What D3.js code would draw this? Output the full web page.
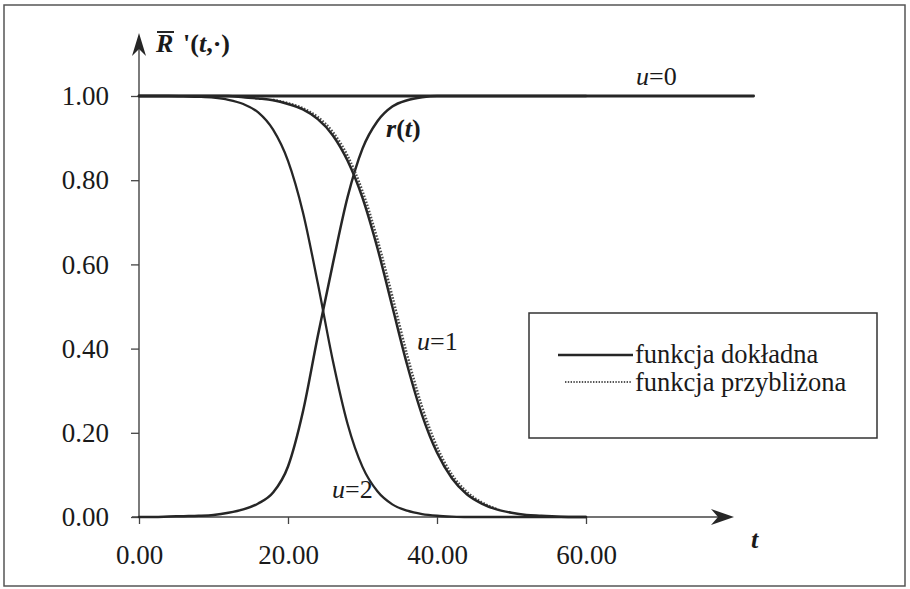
<!DOCTYPE html>
<html>
<head>
<meta charset="utf-8">
<script src="https://cdn.jsdelivr.net/npm/d3@7"></script>
<style>
  html, body { margin: 0; padding: 0; background: #fff; }
  svg { display: block; }
  text { font-family: "Liberation Serif", "Times New Roman", Times, serif; fill: #1a1a1a; }
</style>
</head>
<body>
<svg id="chart" width="910" height="589"></svg>
<script>
// Time grid (t) shared by the sampled curves
const tValues = [0, 2, 4, 6, 8, 10, 12, 14, 16, 18, 20, 22, 24, 26, 28, 30,
                 32, 34, 36, 38, 40, 42, 44, 46, 48, 50, 52, 54, 56, 58, 60];

// Exact reliability functions for u = 1 and u = 2, and the level r(t)
const exactU1 = [1.000, 1.000, 1.000, 1.000, 1.000, 1.000, 1.000, 0.997, 0.994, 0.990,
                 0.981, 0.968, 0.945, 0.907, 0.846, 0.758, 0.639, 0.500, 0.361, 0.242,
                 0.153, 0.092, 0.054, 0.032, 0.018, 0.010, 0.005, 0.003, 0.001, 0.000, 0.000];
const exactU2 = [1.000, 1.000, 1.000, 0.999, 0.998, 0.996, 0.991, 0.981, 0.961, 0.920,
                 0.846, 0.724, 0.555, 0.373, 0.221, 0.119, 0.061, 0.030, 0.015, 0.007,
                 0.003, 0.001, 0.000, 0.000, 0.000, 0.000, 0.000, 0.000, 0.000, 0.000, 0.000];
const levelR  = [0.000, 0.000, 0.001, 0.002, 0.003, 0.005, 0.010, 0.018, 0.032, 0.058,
                 0.120, 0.250, 0.430, 0.600, 0.760, 0.875, 0.940, 0.975, 0.990, 0.997,
                 1.000, 1.000, 1.000, 1.000, 1.000, 1.000, 1.000, 1.000, 1.000, 1.000, 1.000];

// Approximate function for u = 1 (dotted)
const approxT  = [18, 20, 22, 24, 26, 28, 30, 32, 34, 36, 38, 40, 42, 44, 46, 48];
const approxU1 = [0.991, 0.983, 0.971, 0.950, 0.915, 0.858, 0.774, 0.660, 0.525, 0.385,
                  0.262, 0.167, 0.101, 0.060, 0.035, 0.019];

// u = 0 stays at full reliability over the whole horizon
const flatT  = [0, 82.5];
const flatU0 = [1.0, 1.0];

// Axis ticks
const xTicks = [0, 20, 40, 60];
const yTicks = [0, 0.2, 0.4, 0.6, 0.8, 1.0];

// Legend entries
const legendLabels = ["funkcja dokładna", "funkcja przybliżona"];

const svg = d3.select("#chart");
const ink = "#262626";
const serif = '"Liberation Serif", "Times New Roman", Times, serif';

// Outer frame
svg.append("rect")
  .attr("x", 4).attr("y", 5).attr("width", 901).attr("height", 581)
  .attr("fill", "#fff").attr("stroke", "#555").attr("stroke-width", 1.5);

const x = d3.scaleLinear().domain([0, 60]).range([139, 586]);
const y = d3.scaleLinear().domain([0, 1]).range([517, 96]);

// Axes (ticks and labels)
const yAxis = d3.axisLeft(y).tickValues(yTicks).tickSize(8).tickPadding(22)
  .tickFormat(d3.format(".2f"));
const xAxis = d3.axisBottom(x).tickValues(xTicks).tickSize(7).tickPadding(21)
  .tickFormat(d3.format(".2f"));

const gy = svg.append("g").attr("transform", `translate(${x(0)},0)`).call(yAxis);
const gx = svg.append("g").attr("transform", `translate(0,${y(0)})`).call(xAxis);
[gy, gx].forEach(g => {
  g.select(".domain").remove();
  g.selectAll(".tick line").attr("stroke", "#444").attr("stroke-width", 1.3);
  g.selectAll(".tick text")
    .attr("fill", "#1a1a1a")
    .style("font-family", serif)
    .style("font-size", "27px");
});

// Axis lines with arrowheads
const x0 = x(0), y0 = y(0);
svg.append("line").attr("x1", x0).attr("y1", y0 + 1).attr("x2", x0).attr("y2", 40)
  .attr("stroke", "#444").attr("stroke-width", 1.4);
svg.append("line").attr("x1", x0 - 7).attr("y1", y0).attr("x2", 726).attr("y2", y0)
  .attr("stroke", "#444").attr("stroke-width", 1.4);
svg.append("path")
  .attr("d", `M${x0},33 L${x0 - 7},56 L${x0},49 L${x0 + 7},56 Z`)
  .attr("fill", ink);
svg.append("path")
  .attr("d", `M734,${y0} L711,${y0 - 8} L718,${y0} L711,${y0 + 8} Z`)
  .attr("fill", ink);

// Curves
const line = d3.line().x(d => x(d[0])).y(d => y(d[1])).curve(d3.curveMonotoneX);
const zipped = (ts, vs) => ts.map((t, i) => [t, vs[i]]);

const curves = svg.append("g").attr("fill", "none").attr("stroke-linecap", "round");
curves.append("path").attr("d", line(zipped(flatT, flatU0)))
  .attr("stroke", ink).attr("stroke-width", 2.8);
curves.append("path").attr("d", line(zipped(tValues, exactU2)))
  .attr("stroke", ink).attr("stroke-width", 2.3);
curves.append("path").attr("d", line(zipped(tValues, levelR)))
  .attr("stroke", ink).attr("stroke-width", 2.5);
curves.append("path").attr("d", line(zipped(approxT, approxU1)))
  .attr("stroke", "#4a4a4a").attr("stroke-width", 2.4).attr("stroke-linecap", "butt")
  .attr("stroke-dasharray", "1.6,1.6");
curves.append("path").attr("d", line(zipped(tValues, exactU1)))
  .attr("stroke", ink).attr("stroke-width", 2.5);

// Curve labels
function label(xp, yp, parts, size) {
  const t = svg.append("text").attr("x", xp).attr("y", yp).style("font-size", (size || 26) + "px");
  parts.forEach(p => {
    t.append("tspan").text(p.s)
      .style("font-style", p.i ? "italic" : "normal")
      .style("font-weight", p.b ? "bold" : "normal");
  });
  return t;
}
label(636, 85, [{ s: "u", i: true }, { s: "=0" }]);
label(417, 350, [{ s: "u", i: true }, { s: "=1" }]);
label(332, 498, [{ s: "u", i: true }, { s: "=2" }]);
label(386, 137, [{ s: "r", i: true, b: true }, { s: "(", b: true }, { s: "t", i: true, b: true }, { s: ")", b: true }]);

// Axis titles
label(156, 52, [{ s: "R", i: true, b: true }]);
svg.append("line").attr("x1", 157).attr("x2", 174).attr("y1", 32).attr("y2", 32)
  .attr("stroke", ink).attr("stroke-width", 2);
label(183, 52, [{ s: "'(", b: true }, { s: "t", i: true, b: true }, { s: ",·)", b: true }]);
label(751, 548, [{ s: "t", i: true, b: true }]);

// Legend
const lg = svg.append("g");
lg.append("rect").attr("x", 529).attr("y", 313).attr("width", 348).attr("height", 125)
  .attr("fill", "#fff").attr("stroke", "#333").attr("stroke-width", 1.5);
lg.append("line").attr("x1", 558).attr("x2", 633).attr("y1", 355).attr("y2", 355)
  .attr("stroke", ink).attr("stroke-width", 2.6);
lg.append("line").attr("x1", 565).attr("x2", 631).attr("y1", 382).attr("y2", 382)
  .attr("stroke", "#555").attr("stroke-width", 1.8).attr("stroke-dasharray", "1.4,1.4");
lg.selectAll("text.lab").data(legendLabels).join("text")
  .attr("class", "lab")
  .attr("x", 635).attr("y", (d, i) => 363 + i * 28)
  .style("font-size", "26.5px")
  .text(d => d);
</script>
</body>
</html>
